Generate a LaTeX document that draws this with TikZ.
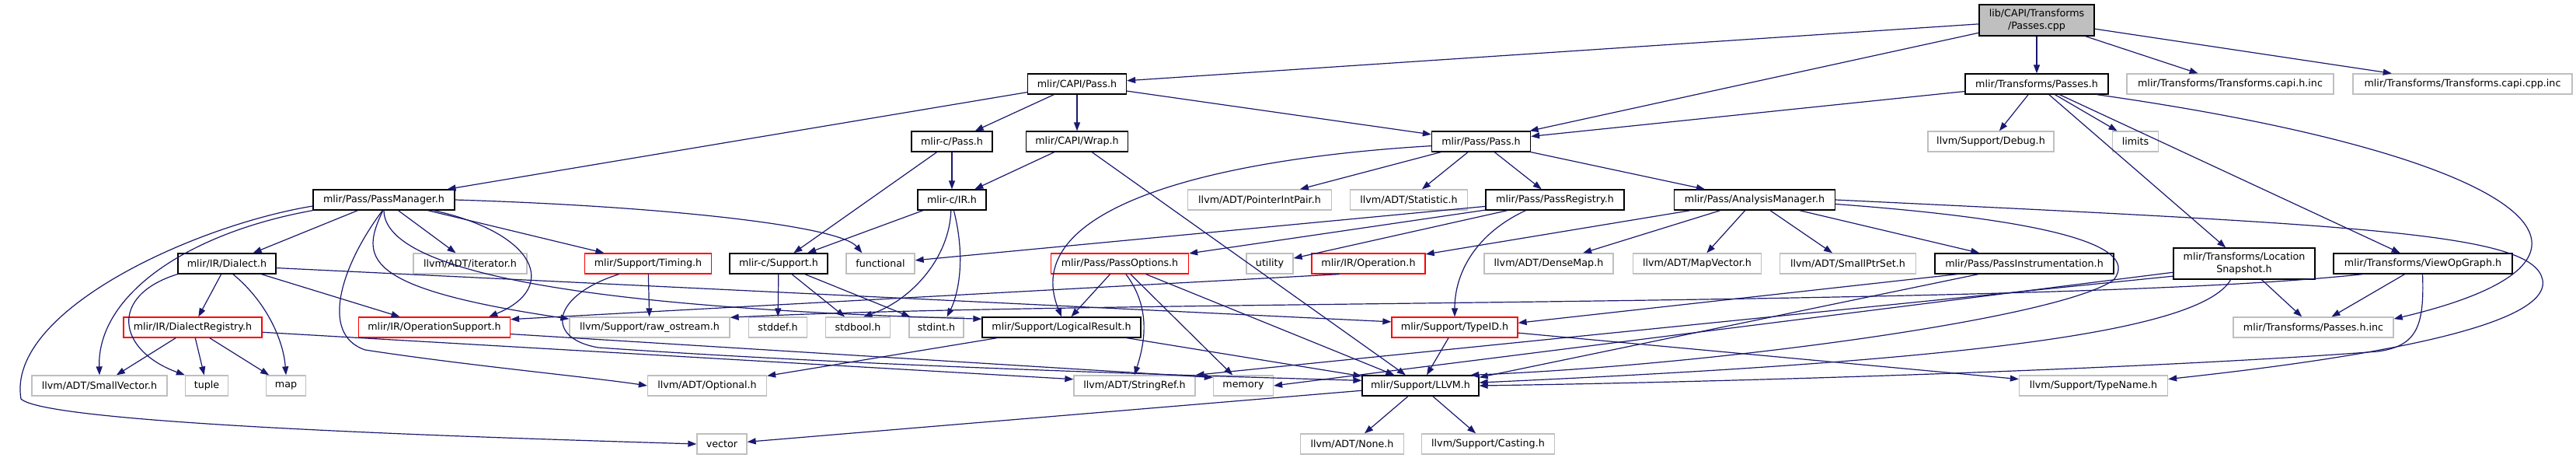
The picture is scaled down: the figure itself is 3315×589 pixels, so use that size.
\documentclass[tikz,border=0pt]{standalone}
\usepackage{fontspec}
\newfontfamily\dvs{DejaVu Sans}
\usetikzlibrary{arrows.meta}
\definecolor{edgecol}{RGB}{25,25,112}
\definecolor{extgray}{RGB}{191,191,191}
\definecolor{rootfill}{RGB}{191,191,191}
\newcommand\nodefont{\dvs\fontsize{12.7}{15.5}\selectfont}
\tikzset{
 nb/.style={draw=black, line width=1.3pt, inner sep=0pt, minimum height=26pt, font=\nodefont},
 ng/.style={nb, draw=extgray},
 nr/.style={nb, draw=red},
 edge/.style={draw=edgecol, line width=1.2pt, -{Triangle[length=11pt,width=8pt]}},
}
\begin{document}
\begin{tikzpicture}[x=1pt,y=-1pt]
\fill[white] (0,0) rectangle (3315,589);
\useasboundingbox (0,0) rectangle (3315,589);
% row 0
\node[nb, fill=rootfill, minimum width=148pt, minimum height=40pt, align=center] (root) at (2621,26) {lib/CAPI/Transforms\\/Passes.cpp};
% row 1
\node[nb, minimum width=127pt] (capipass) at (1386,108) {mlir/CAPI/Pass.h};
\node[nb, minimum width=184pt] (tpasses) at (2621,108) {mlir/Transforms/Passes.h};
\node[ng, minimum width=266pt] (capih) at (2870,108) {mlir/Transforms/Transforms.capi.h.inc};
\node[ng, minimum width=282pt] (capicpp) at (3169,108) {mlir/Transforms/Transforms.capi.cpp.inc};
% row 2
\node[nb, minimum width=104pt] (cpass) at (1225,182) {mlir-c/Pass.h};
\node[nb, minimum width=131pt] (wrap) at (1386,182) {mlir/CAPI/Wrap.h};
\node[nb, minimum width=127pt] (passpass) at (1906,182) {mlir/Pass/Pass.h};
\node[ng, minimum width=162pt] (debug) at (2562,182) {llvm/Support/Debug.h};
\node[ng, minimum width=59pt] (limits) at (2748,182) {limits};
% row 3
\node[nb, minimum width=182pt] (passmanager) at (494,257) {mlir/Pass/PassManager.h};
\node[nb, minimum width=88pt] (cir) at (1225,257) {mlir-c/IR.h};
\node[ng, minimum width=185pt] (pointerint) at (1621,257) {llvm/ADT/PointerIntPair.h};
\node[ng, minimum width=151pt] (statistic) at (1813,257) {llvm/ADT/Statistic.h};
\node[nb, minimum width=178pt] (passregistry) at (2001,257) {mlir/Pass/PassRegistry.h};
\node[nb, minimum width=207pt] (analysismgr) at (2258,257) {mlir/Pass/AnalysisManager.h};
% row 4
\node[nb, minimum width=126pt] (dialect) at (292,339) {mlir/IR/Dialect.h};
\node[ng, minimum width=146pt] (iterator) at (605,339) {llvm/ADT/iterator.h};
\node[nr, minimum width=163pt] (timing) at (834,339) {mlir/Support/Timing.h};
\node[nb, minimum width=126pt] (csupport) at (1002,339) {mlir-c/Support.h};
\node[ng, minimum width=88pt] (functional) at (1133,339) {functional};
\node[nr, minimum width=177pt] (passoptions) at (1441,339) {mlir/Pass/PassOptions.h};
\node[ng, minimum width=60pt] (utility) at (1634,339) {utility};
\node[nr, minimum width=146pt] (operation) at (1761,339) {mlir/IR/Operation.h};
\node[ng, minimum width=166pt] (densemap) at (1993,339) {llvm/ADT/DenseMap.h};
\node[ng, minimum width=165pt] (mapvector) at (2184,339) {llvm/ADT/MapVector.h};
\node[ng, minimum width=175pt] (smallptrset) at (2378,339) {llvm/ADT/SmallPtrSet.h};
\node[nb, minimum width=230pt] (passinstr) at (2605,339) {mlir/Pass/PassInstrumentation.h};
\node[nb, minimum width=182pt, minimum height=40pt, align=center] (locsnap) at (2888,339) {mlir/Transforms/Location\\Snapshot.h};
\node[nb, minimum width=230pt] (viewopgraph) at (3118,339) {mlir/Transforms/ViewOpGraph.h};
% row 5
\node[nr, minimum width=178pt] (dialectreg) at (248,421) {mlir/IR/DialectRegistry.h};
\node[nr, minimum width=195pt] (opsupport) at (559,421) {mlir/IR/OperationSupport.h};
\node[ng, minimum width=206pt] (rawostream) at (836,421) {llvm/Support/raw\_ostream.h};
\node[ng, minimum width=75pt] (stddef) at (1001,421) {stddef.h};
\node[ng, minimum width=83pt] (stdbool) at (1104,421) {stdbool.h};
\node[ng, minimum width=70pt] (stdint) at (1205,421) {stdint.h};
\node[nb, minimum width=204pt] (logicalresult) at (1366,421) {mlir/Support/LogicalResult.h};
\node[nr, minimum width=162pt] (typeid) at (1872,421) {mlir/Support/TypeID.h};
\node[ng, minimum width=206pt] (passeshinc) at (2977,421) {mlir/Transforms/Passes.h.inc};
% row 6
\node[ng, minimum width=174pt] (smallvector) at (128,496) {llvm/ADT/SmallVector.h};
\node[ng, minimum width=55pt] (tuple) at (266,496) {tuple};
\node[ng, minimum width=51pt] (map) at (368,496) {map};
\node[ng, minimum width=153pt] (optional) at (910,496) {llvm/ADT/Optional.h};
\node[ng, minimum width=156pt] (stringref) at (1460,496) {llvm/ADT/StringRef.h};
\node[ng, minimum width=77pt] (memory) at (1600,496) {memory};
\node[nb, minimum width=150pt] (llvm) at (1828,496) {mlir/Support/LLVM.h};
\node[ng, minimum width=191pt] (typename) at (2694,496) {llvm/Support/TypeName.h};
% row 7
\node[ng, minimum width=64pt] (vector) at (929,571) {vector};
\node[ng, minimum width=133pt] (none) at (1740,571) {llvm/ADT/None.h};
\node[ng, minimum width=171pt] (casting) at (1915,571) {llvm/Support/Casting.h};

% ---- edges ----
\draw[edge] (root) -- (capipass);
\draw[edge] (root) -- (passpass);
\draw[edge] (root) -- (tpasses);
\draw[edge] (root) -- (capih);
\draw[edge] (root) -- (capicpp);

\draw[edge] (capipass) -- (passmanager);
\draw[edge] (capipass) -- (cpass);
\draw[edge] (capipass) -- (wrap);
\draw[edge] (capipass) -- (passpass);

\draw[edge] (cpass) -- (cir);
\draw[edge] (cpass) -- (csupport);
\draw[edge] (wrap) -- (cir);
\draw[edge] (wrap) -- (llvm);

\draw[edge] (cir) -- (csupport);
\draw[edge] (cir.-95) .. controls (1222,330) and (1175,385) .. (stdbool.62);
\draw[edge] (cir.-80) .. controls (1245,340) and (1230,385) .. (stdint.45);

\draw[edge] (csupport) -- (stddef);
\draw[edge] (csupport) -- (stdbool);
\draw[edge] (csupport) -- (stdint);

\draw[edge] (passpass) -- (pointerint);
\draw[edge] (passpass) -- (statistic);
\draw[edge] (passpass) -- (passregistry);
\draw[edge] (passpass) -- (analysismgr);
\draw[edge] (passpass.185) .. controls (1550,205) and (1310,270) .. (logicalresult.north);

\draw[edge] (passmanager.185) .. controls (250,290) and (8,400) .. (27,513) .. controls (60,545) and (600,562) .. (vector.west);
\draw[edge] (passmanager.south west) .. controls (240,300) and (125,380) .. (smallvector.north);
\draw[edge] (passmanager) -- (dialect);
\draw[edge] (passmanager.-97) .. controls (440,340) and (410,430) .. (470,450) .. controls (600,470) and (760,485) .. (optional.west);
\draw[edge] (passmanager.-95) .. controls (465,330) and (460,370) .. (rawostream.174);
\draw[edge] (passmanager.-90) .. controls (495,370) and (900,400) .. (logicalresult.174);
\draw[edge] (passmanager) -- (iterator);
\draw[edge] (passmanager.-12) .. controls (690,300) and (720,370) .. (opsupport.11);
\draw[edge] (passmanager) -- (timing);
\draw[edge] (passmanager.east) .. controls (850,265) and (1080,290) .. (functional.150);

\draw[edge] (dialect) -- (dialectreg);
\draw[edge] (dialect.south west) .. controls (140,380) and (150,450) .. (tuple.north west);
\draw[edge] (dialect.-60) .. controls (345,390) and (365,440) .. (map.north);
\draw[edge] (dialect) -- (opsupport);
\draw[edge] (dialect.-5) -- (typeid.175);

\draw[edge] (dialectreg) -- (smallvector);
\draw[edge] (dialectreg) -- (tuple);
\draw[edge] (dialectreg) -- (map);
\draw[edge] (dialectreg.-4) -- (stringref.174);

\draw[edge] (timing) -- (rawostream);
\draw[edge] (timing.-160) .. controls (710,380) and (700,435) .. (770,447) .. controls (1100,470) and (1500,482) .. (llvm.175);

\draw[edge] (opsupport.-5) -- (memory.165);
\draw[edge] (operation.200) -- (opsupport.6);

\draw[edge] (passregistry) -- (functional);
\draw[edge] (passregistry) -- (passoptions);
\draw[edge] (passregistry) -- (utility);
\draw[edge] (passregistry.-160) .. controls (1900,300) and (1872,350) .. (typeid.north);

\draw[edge] (passoptions) -- (logicalresult);
\draw[edge] (passoptions.-60) .. controls (1485,400) and (1470,450) .. (stringref.north);
\draw[edge] (passoptions) -- (memory);
\draw[edge] (passoptions) -- (llvm);

\draw[edge] (logicalresult) -- (optional);
\draw[edge] (logicalresult) -- (llvm);

\draw[edge] (analysismgr) -- (operation);
\draw[edge] (analysismgr) -- (densemap);
\draw[edge] (analysismgr) -- (mapvector);
\draw[edge] (analysismgr) -- (smallptrset);
\draw[edge] (analysismgr) -- (passinstr);
\draw[edge] (analysismgr.-3) .. controls (2600,280) and (2760,310) .. (2720,360) .. controls (2650,410) and (2200,470) .. (llvm.12);
\draw[edge] (analysismgr.east) .. controls (3050,290) and (3260,300) .. (3272,360) .. controls (3285,430) and (2950,470) .. (typename.5);

\draw[edge] (passinstr.-171) -- (typeid.4);
\draw[edge] (passinstr.-167) -- (llvm.8);

\draw[edge] (typeid) -- (llvm);
\draw[edge] (typeid.-5) -- (typename.175);

\draw[edge] (llvm) -- (vector);
\draw[edge] (llvm) -- (none);
\draw[edge] (llvm) -- (casting);

\draw[edge] (tpasses) -- (passpass);
\draw[edge] (tpasses) -- (debug);
\draw[edge] (tpasses) -- (locsnap);
\draw[edge] (tpasses) -- (limits);
\draw[edge] (tpasses) -- (viewopgraph);
\draw[edge] (tpasses.-10.5) .. controls (3250,200) and (3420,330) .. (passeshinc.6);

\draw[edge] (locsnap.-130) .. controls (2830,430) and (2500,465) .. (llvm.3);
\draw[edge] (locsnap.-170) -- (stringref.north east);
\draw[edge] (locsnap.-173) -- (memory.east);
\draw[edge] (locsnap) -- (passeshinc);

\draw[edge] (viewopgraph.-170) .. controls (2650,395) and (1400,385) .. (rawostream.7);
\draw[edge] (viewopgraph) -- (passeshinc);
\draw[edge] (viewopgraph.-92) .. controls (3120,420) and (3110,445) .. (3060,452) .. controls (2800,472) and (2300,490) .. (llvm.east);
\end{tikzpicture}
\end{document}
